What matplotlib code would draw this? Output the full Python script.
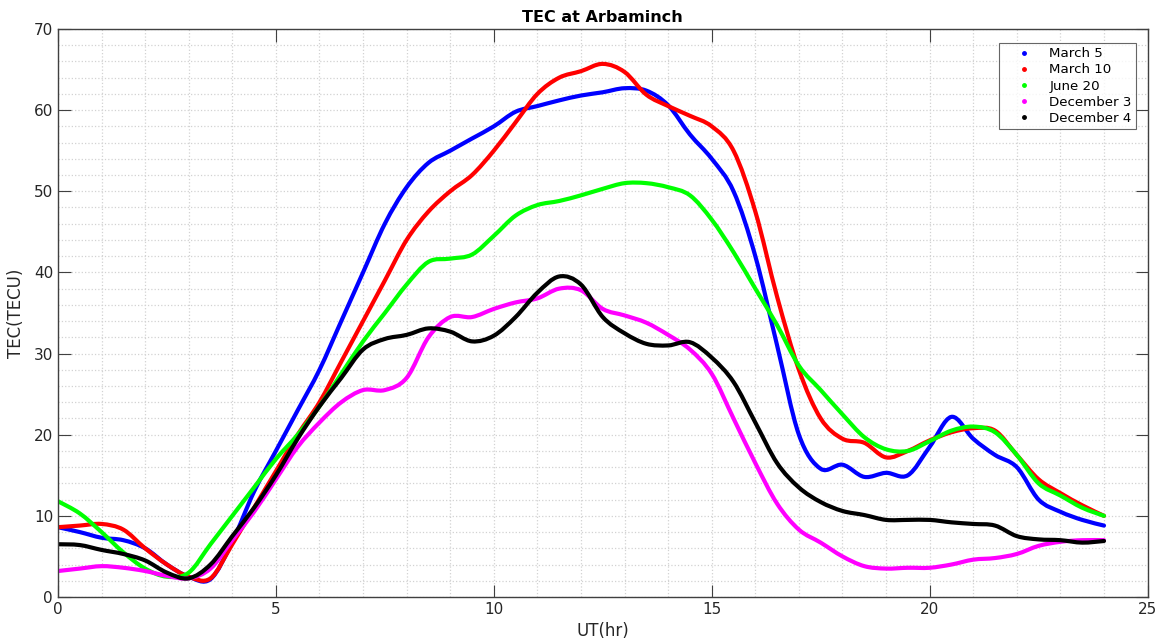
import numpy as np
import matplotlib
matplotlib.use('Agg')
import matplotlib.pyplot as plt
from matplotlib.lines import Line2D
from matplotlib.path import Path
from matplotlib.patches import PathPatch
from matplotlib.ticker import MultipleLocator

# UT hours, half-hour steps
ut = np.arange(0, 24.01, 0.5)

march5 = [8.6, 8.0, 7.3, 7.0, 6.0, 4.0, 2.5, 2.2, 6.8, 13.0, 18.0, 23.0, 28.0, 34.0,
          40.0, 46.0, 50.5, 53.5, 55.0, 56.5, 58.0, 59.8, 60.5, 61.2, 61.8, 62.2,
          62.7, 62.4, 60.6, 57.0, 54.0, 50.0, 42.0, 31.0, 20.0, 15.8, 16.3, 14.8,
          15.3, 15.0, 18.5, 22.2, 19.5, 17.5, 16.0, 12.0, 10.5, 9.5, 8.8]
march10 = [8.6, 8.8, 9.0, 8.3, 6.0, 4.0, 2.5, 2.3, 6.5, 11.0, 15.5, 20.0, 24.0, 29.0,
           34.0, 39.0, 44.0, 47.5, 50.0, 52.0, 55.0, 58.5, 62.0, 64.0, 64.8, 65.7,
           64.7, 61.9, 60.5, 59.3, 58.0, 55.0, 47.5, 37.0, 28.0, 22.0, 19.5, 19.0,
           17.2, 18.0, 19.3, 20.3, 20.8, 20.5, 17.5, 14.5, 12.8, 11.3, 10.0]
june20 = [11.8, 10.3, 8.0, 5.5, 3.5, 2.5, 3.0, 6.5, 10.0, 13.5, 17.0, 20.0, 23.5, 27.5,
          31.5, 35.0, 38.5, 41.3, 41.7, 42.2, 44.5, 47.0, 48.3, 48.8, 49.5, 50.3,
          51.0, 51.0, 50.5, 49.5, 46.5, 42.5, 38.0, 33.5, 28.5, 25.5, 22.5, 19.7,
          18.2, 18.0, 19.2, 20.5, 21.0, 20.3, 17.5, 14.0, 12.5, 11.0, 10.0]
dec3 = [3.2, 3.5, 3.8, 3.6, 3.2, 2.6, 2.3, 3.5, 7.0, 10.5, 14.5, 18.5, 21.5, 24.0,
        25.5, 25.5, 27.0, 32.0, 34.5, 34.5, 35.5, 36.3, 36.8, 38.0, 37.8, 35.5,
        34.7, 33.8, 32.3, 30.5, 27.5, 22.0, 16.5, 11.5, 8.3, 6.7, 5.0, 3.8, 3.5,
        3.6, 3.6, 4.0, 4.6, 4.8, 5.3, 6.3, 6.8, 7.0, 7.0]
dec4 = [6.5, 6.4, 5.8, 5.3, 4.5, 3.0, 2.3, 4.0, 7.5, 11.0, 15.0, 19.5, 23.5, 27.0,
        30.5, 31.8, 32.3, 33.1, 32.7, 31.5, 32.2, 34.5, 37.5, 39.5, 38.5, 34.5,
        32.5, 31.2, 31.0, 31.4, 29.5, 26.5, 21.5, 16.5, 13.5, 11.7, 10.6, 10.1,
        9.5, 9.5, 9.5, 9.2, 9.0, 8.8, 7.5, 7.1, 7.0, 6.7, 6.9]

series = [
    ('March 5', march5, '#0000ff'),
    ('March 10', march10, '#ff0000'),
    ('June 20', june20, '#00ff00'),
    ('December 3', dec3, '#ff00ff'),
    ('December 4', dec4, '#000000'),
]


def smooth_path(x, y):
    # Catmull-Rom curve through the samples, as cubic Bezier segments
    pts = np.column_stack([x, y]).astype(float)
    n = len(pts)
    verts = [pts[0]]
    codes = [Path.MOVETO]
    for i in range(n - 1):
        p0 = pts[i - 1] if i > 0 else pts[i]
        p1, p2 = pts[i], pts[i + 1]
        p3 = pts[i + 2] if i + 2 < n else pts[i + 1]
        verts += [p1 + (p2 - p0) / 6.0, p2 - (p3 - p1) / 6.0, p2]
        codes += [Path.CURVE4] * 3
    return Path(verts, codes)


plt.rcParams['font.family'] = 'DejaVu Sans'
fig = plt.figure(figsize=(11.71, 6.44), dpi=100)
ax = fig.add_axes([0.0495, 0.073, 0.9305, 0.882])

for name, vals, col in series:
    patch = PathPatch(smooth_path(ut, vals), fill=False, edgecolor=col,
                      linewidth=3, capstyle='round', joinstyle='round',
                      transform=ax.transData)
    ax.add_patch(patch)

ax.set_xlim(0, 25)
ax.set_ylim(0, 70)
ax.xaxis.set_major_locator(MultipleLocator(5))
ax.xaxis.set_minor_locator(MultipleLocator(1))
ax.yaxis.set_major_locator(MultipleLocator(10))
ax.yaxis.set_minor_locator(MultipleLocator(2))

grid_col = '#d2d2d2'
ax.grid(True, which='major', linestyle=':', color=grid_col, linewidth=0.9)
ax.grid(True, which='minor', linestyle=':', color=grid_col, linewidth=0.9)
ax.set_axisbelow(True)

axis_col = '#404040'
for sp in ax.spines.values():
    sp.set_color(axis_col)
    sp.set_linewidth(1.0)
ax.tick_params(which='major', direction='in', length=9, width=0.8,
               top=True, right=True, colors=axis_col, labelsize=11,
               labelcolor='#262626')
ax.tick_params(which='minor', length=0, top=True, right=True)

ax.set_xlabel('UT(hr)', fontsize=12, color='#262626', labelpad=4)
ax.set_ylabel('TEC(TECU)', fontsize=12, color='#262626', labelpad=6)
ax.set_title('TEC at Arbaminch', fontsize=11.5, fontweight='bold', pad=5)

handles = [Line2D([], [], color=col, marker='.', linestyle='none', markersize=5)
           for _, _, col in series]
leg = ax.legend(handles, [s[0] for s in series], loc='upper right',
                bbox_to_anchor=(0.989, 0.975), fontsize=9.6, frameon=True,
                fancybox=False, edgecolor='#404040', handlelength=3.2,
                handletextpad=0.3, borderpad=0.3, labelspacing=0.24,
                borderaxespad=0)
leg.get_frame().set_linewidth(0.8)

fig.savefig('out.png', dpi=100)
